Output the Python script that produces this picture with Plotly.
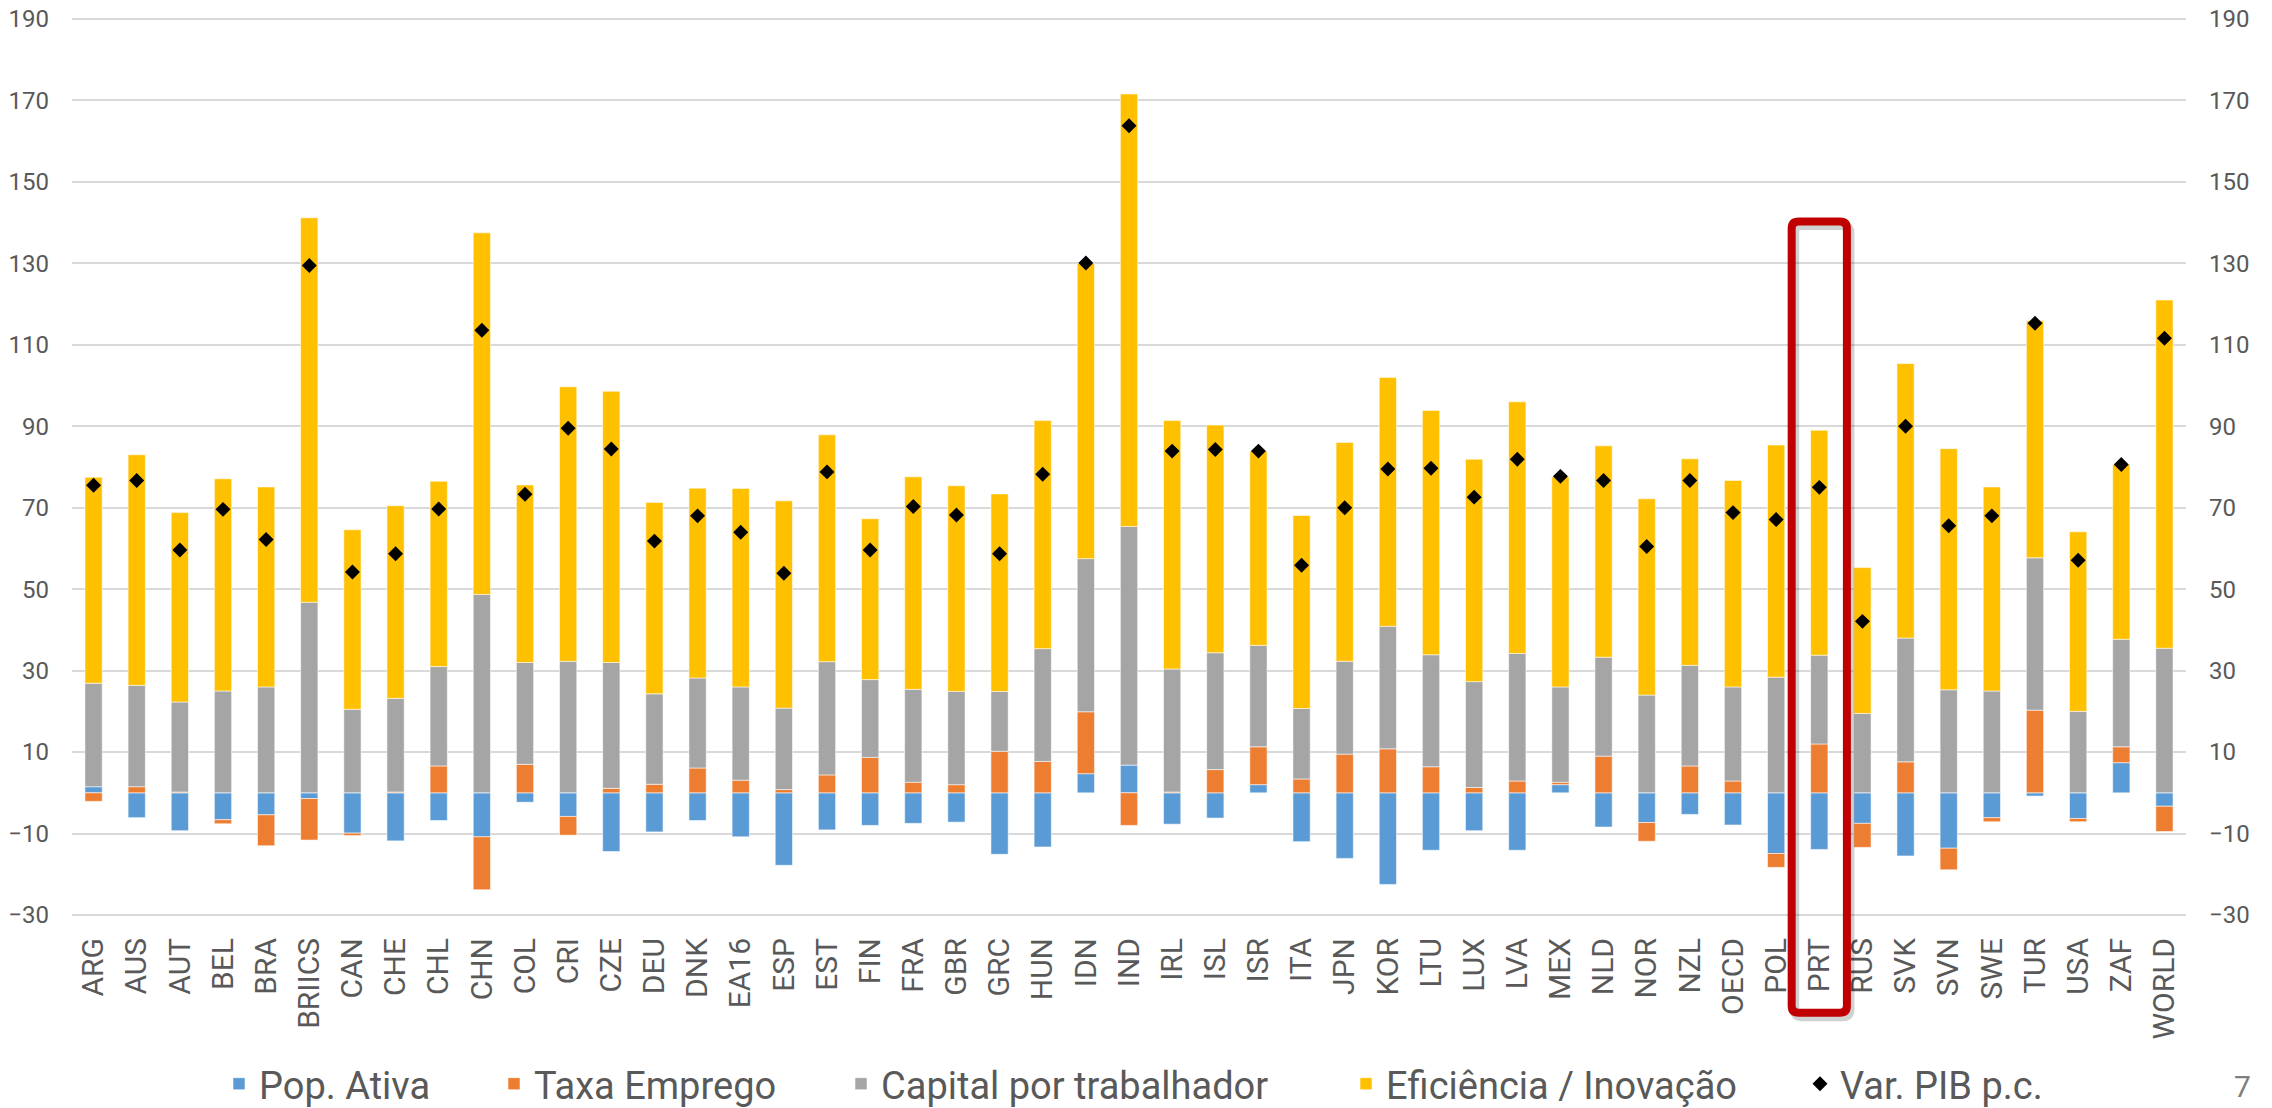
import plotly.graph_objects as go

categories = ["ARG", "AUS", "AUT", "BEL", "BRA", "BRIICS", "CAN", "CHE", "CHL", "CHN",
              "COL", "CRI", "CZE", "DEU", "DNK", "EA16", "ESP", "EST", "FIN", "FRA",
              "GBR", "GRC", "HUN", "IDN", "IND", "IRL", "ISL", "ISR", "ITA", "JPN",
              "KOR", "LTU", "LUX", "LVA", "MEX", "NLD", "NOR", "NZL", "OECD", "POL",
              "PRT", "RUS", "SVK", "SVN", "SWE", "TUR", "USA", "ZAF", "WORLD"]

pop_ativa = [1.5, -6.1, -9.3, -6.6, -5.4, -1.4, -9.9, -11.8, -6.8, -10.8,
             -2.3, -5.8, -14.4, -9.6, -6.8, -10.8, -17.8, -9.1, -8.0, -7.5,
             -7.2, -15.1, -13.3, 4.7, 6.8, -7.7, -6.2, 2.0, -12.0, -16.1,
             -22.5, -14.1, -9.3, -14.1, 2.0, -8.4, -7.3, -5.3, -7.9, -14.9,
             -13.9, -7.5, -15.5, -13.6, -6.1, -0.8, -6.3, 7.4, -3.3]

taxa_emprego = [-2.1, 1.5, 0.2, -1.0, -7.6, -10.2, -0.6, 0.2, 6.6, -13.0,
                7.0, -4.6, 1.1, 2.1, 6.1, 3.1, 0.8, 4.4, 8.7, 2.6,
                2.0, 10.2, 7.7, 15.2, -8.0, 0.2, 5.7, 9.3, 3.4, 9.5,
                10.8, 6.4, 1.3, 2.9, 0.6, 9.0, -4.6, 6.6, 2.9, -3.4,
                12.0, -5.9, 7.6, -5.3, -1.0, 20.3, -0.8, 3.9, -6.2]

capital = [25.4, 24.9, 22.1, 25.0, 26.0, 46.8, 20.5, 23.0, 24.4, 48.7,
           25.0, 32.3, 30.9, 22.2, 22.1, 22.9, 20.0, 27.8, 19.1, 22.8,
           22.9, 14.7, 27.7, 37.6, 58.6, 30.2, 28.7, 24.9, 17.3, 22.8,
           30.1, 27.5, 26.0, 31.3, 23.4, 24.3, 24.0, 24.7, 23.1, 28.4,
           21.8, 19.5, 30.4, 25.3, 25.0, 37.4, 20.0, 26.4, 35.5]

eficiencia = [50.6, 56.6, 46.5, 52.1, 49.1, 94.4, 44.1, 47.3, 45.5, 88.8,
              43.6, 67.4, 66.6, 47.0, 46.6, 48.7, 50.9, 55.7, 39.5, 52.2,
              50.5, 48.5, 56.0, 72.5, 106.2, 61.0, 55.9, 47.7, 47.4, 53.7,
              61.1, 60.0, 54.6, 61.8, 51.6, 51.9, 48.2, 50.7, 50.7, 57.0,
              55.2, 35.8, 67.4, 59.2, 50.1, 58.2, 44.1, 42.9, 85.5]

var_pib = [75.5, 76.7, 59.6, 69.6, 62.2, 129.5, 54.2, 58.7, 69.7, 113.6,
           73.3, 89.5, 84.4, 61.8, 68.0, 64.0, 53.9, 78.8, 59.6, 70.3,
           68.2, 58.7, 78.2, 130.1, 163.8, 83.9, 84.3, 83.9, 55.9, 70.0,
           79.5, 79.7, 72.6, 81.9, 77.7, 76.7, 60.5, 76.7, 68.8, 67.1,
           75.0, 42.1, 90.0, 65.6, 68.0, 115.3, 57.1, 80.6, 111.6]

y_min, y_max = -30, 190
highlight = "PRT"

TXT = "#595959"
FONT = "Roboto, Open Sans, sans-serif"

# page layout (body margin is removed by the post script, so page px == figure px)
W, H = 2272, 1108
GRID_TOP, GRID_BOT = 19, 915        # page px of the 190 / -30 gridlines
PAD = 2                              # keep the end gridlines just inside the plot area
ML, MR = 72, 86
MT, MB = GRID_TOP - PAD, H - GRID_BOT - PAD
PW = W - ML - MR
PH = H - MT - MB
ppu = (GRID_BOT - GRID_TOP) / (y_max - y_min)
y_range = [y_min - PAD / ppu, y_max + PAD / ppu]


def px_to_paper_x(px):
    return (px - ML) / PW


def px_to_paper_y(py):
    return (H - MB - py) / PH


fig = go.Figure()
series = [
    ("Pop. Ativa", pop_ativa, "#5B9BD5"),
    ("Taxa Emprego", taxa_emprego, "#ED7D31"),
    ("Capital por trabalhador", capital, "#A5A5A5"),
    ("Eficiência / Inovação", eficiencia, "#FFC000"),
]
legend_ids = ["legend", "legend2", "legend3", "legend4", "legend5"]
# page pixel where each legend item's text starts (layout only)
legend_text_px = [259, 534, 881, 1386, 1840]

for k, (name, vals, col) in enumerate(series):
    fig.add_trace(go.Bar(
        x=categories, y=vals, name=name, legend=legend_ids[k],
        marker=dict(color=col, line=dict(color="rgba(255,255,255,0.55)", width=1)),
    ))

fig.add_trace(go.Scatter(
    x=categories, y=var_pib, name="Var. PIB p.c.", mode="markers",
    marker=dict(symbol="diamond", size=11.5, color="black"),
    yaxis="y2", legend=legend_ids[4],
))

# highlight box around PRT (rounded corners + soft shadow)
n = len(categories)
i = categories.index(highlight)
xc = (i + 0.5) / n
half = 0.64 / n
span = y_range[1] - y_range[0]
y_top = (140.3 - y_range[0]) / span
y_bot = (-54 - y_range[0]) / span


def rounded_path(x0, x1, y0, y1, r_px=7):
    rx, ry = r_px / PW, r_px / PH
    return (f"M {x0 + rx},{y0} L {x1 - rx},{y0} Q {x1},{y0} {x1},{y0 + ry} "
            f"L {x1},{y1 - ry} Q {x1},{y1} {x1 - rx},{y1} "
            f"L {x0 + rx},{y1} Q {x0},{y1} {x0},{y1 - ry} "
            f"L {x0},{y0 + ry} Q {x0},{y0} {x0 + rx},{y0} Z")


dx, dy = 3 / PW, 4 / PH
fig.add_shape(type="path", xref="paper", yref="paper",
              path=rounded_path(xc - half + dx, xc + half + dx, y_bot - dy, y_top - dy),
              line=dict(color="rgba(0,0,0,0.18)", width=9), layer="above")
fig.add_shape(type="path", xref="paper", yref="paper",
              path=rounded_path(xc - half, xc + half, y_bot, y_top),
              line=dict(color="#C00000", width=8), layer="above")

fig.add_annotation(text="7", xref="paper", yref="paper",
                   x=px_to_paper_x(2242), y=px_to_paper_y(1106),
                   xanchor="center", yanchor="bottom",
                   showarrow=False, font=dict(family=FONT, size=30, color="#7F7F7F"))

leg_y = px_to_paper_y(1084)
legends = {}
for k, lid in enumerate(legend_ids):
    legends[lid] = dict(orientation="h", x=px_to_paper_x(legend_text_px[k] - 40), xanchor="left",
                        y=leg_y, yanchor="middle", bgcolor="rgba(0,0,0,0)",
                        font=dict(family=FONT, size=38, color=TXT))

axis_common = dict(range=y_range, tick0=-30, dtick=20, ticks="",
                   tickfont=dict(family=FONT, size=24, color=TXT),
                   zeroline=False, ticklabelstandoff=22, ticklabeloverflow="allow")

fig.update_layout(
    barmode="relative",
    bargap=0.6,
    width=W, height=H,
    margin=dict(l=ML, r=MR, t=MT, b=MB, autoexpand=False),
    paper_bgcolor="white", plot_bgcolor="white",
    showlegend=True,
    xaxis=dict(range=[-0.5, n - 0.5], tickangle=-90,
               tickfont=dict(family=FONT, size=30, color=TXT),
               showgrid=False, showline=False, ticks="", ticklabelstandoff=14,
               automargin=False),
    yaxis=dict(showgrid=True, gridcolor="#D9D9D9", gridwidth=1.8, automargin=False, **axis_common),
    yaxis2=dict(overlaying="y", side="right", showgrid=False, automargin=False, **axis_common),
    **legends,
)

fig.write_html("out.html",
               config={"displayModeBar": False},
               post_script="document.body.style.margin='0px'; document.body.style.overflow='hidden';")
